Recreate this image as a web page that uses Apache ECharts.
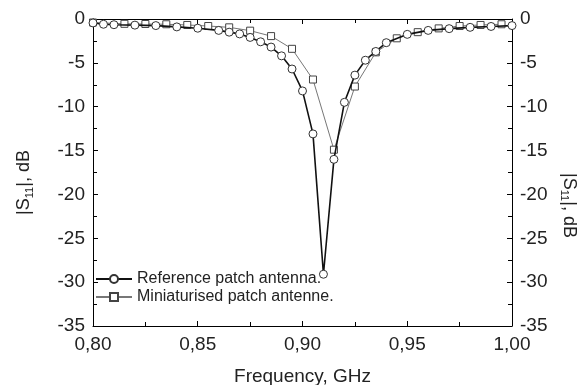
<!DOCTYPE html>
<html>
<head>
<meta charset="utf-8">
<script src="https://cdn.jsdelivr.net/npm/echarts@6/dist/echarts.min.js"></script>
<style>
  html, body { margin: 0; padding: 0; background: #fff; }
  #chart { width: 584px; height: 385px; }
</style>
</head>
<body>
<div id="chart"></div>
<script>
'use strict';

// reference patch antenna (circles)
const refFreq = [0.80, 0.805, 0.81, 0.82, 0.83, 0.84, 0.85, 0.86, 0.865, 0.87, 0.875, 0.88, 0.885,
  0.89, 0.895, 0.90, 0.905, 0.91, 0.915, 0.92, 0.925, 0.93, 0.935, 0.94, 0.95, 0.96, 0.97,
  0.98, 0.99, 1.00];
const refS11 = [-0.45, -0.6, -0.65, -0.7, -0.75, -0.9, -1.05, -1.3, -1.5, -1.7, -2.1, -2.6, -3.2,
  -4.2, -5.7, -8.2, -13.1, -29.1, -16.0, -9.5, -6.4, -4.7, -3.7, -2.7, -1.75, -1.3, -1.1,
  -0.95, -0.85, -0.75];

// miniaturised patch antenna (squares)
const miniFreq = [0.80, 0.815, 0.825, 0.835, 0.845, 0.855, 0.865, 0.875, 0.885, 0.895, 0.905,
  0.915, 0.925, 0.935, 0.945, 0.955, 0.965, 0.975, 0.985, 0.995];
const miniS11 = [-0.4, -0.55, -0.57, -0.6, -0.68, -0.8, -0.95, -1.33, -1.95, -3.4, -6.9,
  -14.9, -7.7, -3.8, -2.2, -1.5, -1.07, -0.8, -0.68, -0.6];

const xTicks = [0.80, 0.85, 0.90, 0.95, 1.00];
const yTicks = [0, -5, -10, -15, -20, -25, -30, -35];

const zip = (xs, ys) => xs.map((x, i) => [x, ys[i]]);

const FONT = '"Liberation Sans", Arial, sans-serif';
const TXT = '#222';

const myChart = echarts.init(document.getElementById('chart'));

const nameStyle = (padding) => ({
  fontFamily: FONT, fontSize: 18, color: TXT, padding,
  rich: { s: { fontFamily: FONT, fontSize: 11, color: TXT, verticalAlign: 'bottom', padding: [10, 0, 0, 0] } }
});

const yAxisBase = {
  type: 'value',
  min: yTicks[yTicks.length - 1],
  max: yTicks[0],
  interval: 5,
  axisLine: { show: true, onZero: false, lineStyle: { color: '#000', width: 1 } },
  axisTick: { show: true, inside: true, length: 5, lineStyle: { color: '#000' } },
  minorTick: { show: true, splitNumber: 2, length: 4, lineStyle: { color: '#000' } },
  splitLine: { show: false },
  axisLabel: { fontFamily: FONT, fontSize: 19, color: TXT, margin: 8 },
  name: '|S{s|11}|, dB',
  nameLocation: 'middle'
};

const xAxisBase = {
  type: 'value',
  min: xTicks[0],
  max: xTicks[xTicks.length - 1],
  interval: 0.05,
  axisLine: { show: true, onZero: false, lineStyle: { color: '#000', width: 1 } },
  axisTick: { show: true, inside: true, length: 5, lineStyle: { color: '#000' } },
  minorTick: { show: true, splitNumber: 2, length: 4, lineStyle: { color: '#000' } },
  splitLine: { show: false }
};

const option = {
  animation: false,
  backgroundColor: '#fff',
  grid: { left: 93, right: 72, top: 19, bottom: 59, outerBoundsMode: 'none' },
  legend: {
    orient: 'vertical',
    left: 95,
    top: 271,
    padding: 0,
    itemWidth: 36,
    itemHeight: 10,
    itemGap: 2,
    textStyle: { fontFamily: FONT, fontSize: 16, color: TXT },
    data: ['Reference patch antenna.', 'Miniaturised patch antenne.']
  },
  xAxis: [
    Object.assign({}, xAxisBase, {
      position: 'bottom',
      axisLabel: {
        fontFamily: FONT, fontSize: 19, color: TXT, margin: 9,
        formatter: (v) => v.toFixed(2).replace('.', ',')
      },
      name: 'Frequency, GHz',
      nameLocation: 'middle',
      nameGap: 41,
      nameTextStyle: { fontFamily: FONT, fontSize: 19, color: TXT }
    }),
    Object.assign({}, xAxisBase, { position: 'top', axisLabel: { show: false } })
  ],
  yAxis: [
    Object.assign({}, yAxisBase, { position: 'left', nameGap: 58, nameRotate: 90,
      nameTextStyle: nameStyle([0, 20, 0, 0]) }),
    Object.assign({}, yAxisBase, { position: 'right', nameGap: 46, nameRotate: -90,
      nameTextStyle: nameStyle([0, 0, 0, 66]) })
  ],
  series: [
    {
      name: 'Miniaturised patch antenne.',
      type: 'line',
      data: zip(miniFreq, miniS11),
      symbol: 'rect',
      symbolSize: 7,
      showAllSymbol: true,
      lineStyle: { color: '#777', width: 1 },
      itemStyle: { color: '#fff', borderColor: '#444', borderWidth: 1 },
      z: 2
    },
    {
      name: 'Reference patch antenna.',
      type: 'line',
      data: zip(refFreq, refS11),
      symbol: 'circle',
      symbolSize: 8,
      showAllSymbol: true,
      lineStyle: { color: '#111', width: 1.6 },
      itemStyle: { color: '#fff', borderColor: '#333', borderWidth: 1 },
      z: 3
    }
  ]
};

myChart.setOption(option);
</script>
</body>
</html>
